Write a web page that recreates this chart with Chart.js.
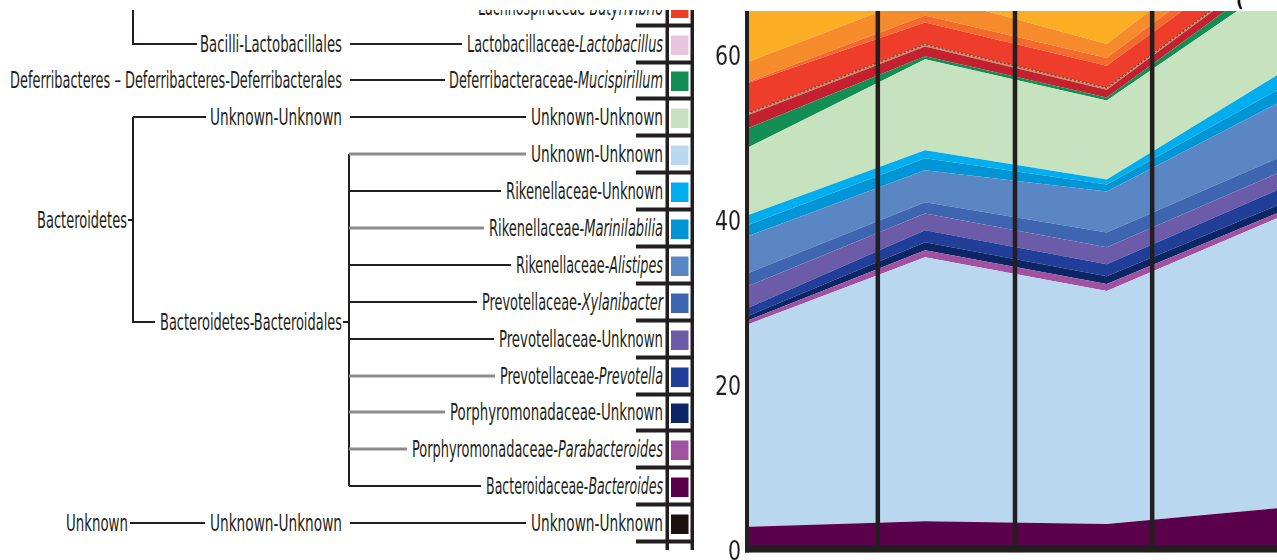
<!DOCTYPE html>
<html>
<head>
<meta charset="utf-8">
<script src="https://cdn.jsdelivr.net/npm/chart.js@4.4.1/dist/chart.umd.min.js"></script>
<style>
  html, body { margin: 0; padding: 0; background: #fff; width: 1277px; height: 560px; overflow: hidden; position: relative; }
  #tree { position: absolute; left: 0; top: 0; }
  #wrap { position: absolute; left: 680px; top: -30px; width: 597px; height: 620px; }
  #mask { position: absolute; left: 0; top: 0; width: 1277px; height: 10px; background: #fff; }
  #mask span { position: absolute; left: 1236px; top: -9px; font: bold 17px "DejaVu Sans", sans-serif; color: #111; }
</style>
</head>
<body>
<svg id="tree" width="700" height="560" xmlns="http://www.w3.org/2000/svg"></svg>
<div id="wrap"><canvas id="c" width="597" height="620"></canvas></div>
<div id="mask"><span>(</span></div>
<script>
// Sampling points along the x axis
const timePoints = [0, 1, 2, 3];

// Relative abundance (%) per taxon, bottom of the stack first
const unknownUnknown        = [0.2, 0.2, 0.2, 0.2];
const bacteroidesVals       = [2.9, 3.6, 3.25, 5.3];
const bacteroidalesUnknown  = [24.35, 32.0, 28.25, 35.6];
const parabacteroidesVals   = [0.45, 0.85, 0.85, 0.6];
const porphyromonadUnknown  = [0.55, 0.95, 0.95, 0.95];
const prevotellaVals        = [0.95, 1.45, 1.45, 1.85];
const prevotellaceaeUnknown = [2.65, 2.05, 2.05, 2.05];
const xylanibacterVals      = [1.6, 1.35, 1.8, 1.8];
const alistipesVals         = [4.5, 3.9, 4.95, 6.8];
const marinilabiliaVals     = [1.35, 1.45, 0.85, 1.65];
const rikenellaceaeUnknown  = [1.2, 0.95, 0.6, 1.9];
const bacteroidetesUnknown  = [8.1, 11.05, 9.6, 11.2];
const mucispirillumVals     = [2.4, 0.35, 0.35, 1.35];
const otherCrimson          = [1.6, 1.2, 0.95, 1.15];
const lactobacillusVals     = [0.25, 0.25, 0.25, 0.25];
const butyrivibrioVals      = [3.65, 2.65, 2.65, 2.35];
const otherVermilion        = [0.15, 0.85, 0.95, 1.5];
const otherOrange           = [2.4, 2.55, 1.7, 2.0];
const otherAmber            = [20, 20, 20, 20];

// Tick values on the y axis and positions of the period dividers (x units)
const yTicks = [0, 20, 40, 60];
const dividers = [0.74, 1.495, 2.25];

const COL = {
  unknown: '#1b110e', bacteroides: '#5b004b', bacteroidalesUnk: '#b9d8f0',
  parabacteroides: '#a052a0', porphyroUnk: '#0c2665', prevotella: '#213f99',
  prevotellaceaeUnk: '#6b5ba8', xylanibacter: '#3e66b0', alistipes: '#5b86c4',
  marinilabilia: '#0096d6', rikenellaceaeUnk: '#00aeef', bacteroidetesUnk: '#c6e2bf',
  mucispirillum: '#138f56', crimson: '#c5202f', lactobacillus: '#e7c5df',
  lactobacillusBand: '#d98a5e',
  butyrivibrio: '#ee3e2b', vermilion: '#f26b2d', orange: '#f58b2b', amber: '#fbad23'
};

const INK = '#231f20';
const FONT = '"Liberation Sans Narrow", "DejaVu Sans Condensed", "DejaVu Sans", sans-serif';

/* ---------- taxonomy tree on the left ---------- */
const svgNS = 'http://www.w3.org/2000/svg';
const svg = document.getElementById('tree');

function addText(parts, x0, x1, yc) {
  const t = document.createElementNS(svgNS, 'text');
  t.setAttribute('x', x0);
  t.setAttribute('y', yc + 8);
  t.setAttribute('textLength', x1 - x0);
  t.setAttribute('lengthAdjust', 'spacingAndGlyphs');
  t.setAttribute('font-family', FONT);
  t.setAttribute('font-size', '23');
  t.setAttribute('fill', INK);
  parts.forEach((p, i) => {
    const s = document.createElementNS(svgNS, 'tspan');
    if (i === 1) s.setAttribute('font-style', 'italic');
    s.textContent = p;
    t.appendChild(s);
  });
  svg.appendChild(t);
}
function addPath(d, color, w) {
  const p = document.createElementNS(svgNS, 'path');
  p.setAttribute('d', d);
  p.setAttribute('stroke', color);
  p.setAttribute('stroke-width', w);
  p.setAttribute('fill', 'none');
  svg.appendChild(p);
}
function addRect(x, y, w, h, color) {
  const r = document.createElementNS(svgNS, 'rect');
  r.setAttribute('x', x); r.setAttribute('y', y);
  r.setAttribute('width', w); r.setAttribute('height', h);
  r.setAttribute('fill', color);
  svg.appendChild(r);
}

const leafRows = [
  { y: 7,   parts: ['Lachnospiraceae-', 'Butyrivibrio'], x0: 478, color: COL.butyrivibrio },
  { y: 44,  parts: ['Lactobacillaceae-', 'Lactobacillus'], x0: 467, color: COL.lactobacillus },
  { y: 80,  parts: ['Deferribacteraceae-', 'Mucispirillum'], x0: 449, color: COL.mucispirillum },
  { y: 117, parts: ['Unknown-Unknown'], x0: 531, color: COL.bacteroidetesUnk },
  { y: 154, parts: ['Unknown-Unknown'], x0: 531, color: COL.bacteroidalesUnk, branch: 'gray' },
  { y: 191, parts: ['Rikenellaceae-Unknown'], x0: 506, color: COL.rikenellaceaeUnk, branch: 'black' },
  { y: 228, parts: ['Rikenellaceae-', 'Marinilabilia'], x0: 489, color: COL.marinilabilia, branch: 'gray' },
  { y: 265, parts: ['Rikenellaceae-', 'Alistipes'], x0: 516, color: COL.alistipes, branch: 'black' },
  { y: 302, parts: ['Prevotellaceae-', 'Xylanibacter'], x0: 482, color: COL.xylanibacter, branch: 'black' },
  { y: 339, parts: ['Prevotellaceae-Unknown'], x0: 499, color: COL.prevotellaceaeUnk, branch: 'black' },
  { y: 376, parts: ['Prevotellaceae-', 'Prevotella'], x0: 500, color: COL.prevotella, branch: 'gray' },
  { y: 412, parts: ['Porphyromonadaceae-Unknown'], x0: 450, color: COL.porphyroUnk, branch: 'gray' },
  { y: 449, parts: ['Porphyromonadaceae-', 'Parabacteroides'], x0: 412, color: COL.parabacteroides, branch: 'gray' },
  { y: 486, parts: ['Bacteroidaceae-', 'Bacteroides'], x0: 486, color: COL.bacteroides, branch: 'black' },
  { y: 523, parts: ['Unknown-Unknown'], x0: 531, color: COL.unknown }
];

const orderRows = [
  { y: 44,  text: 'Bacilli-Lactobacillales', x0: 200 },
  { y: 80,  text: 'Deferribacteres \u2013 Deferribacteres-Deferribacterales', x0: 10 },
  { y: 117, text: 'Unknown-Unknown', x0: 210 },
  { y: 322, text: 'Bacteroidetes-Bacteroidales', x0: 160 },
  { y: 523, text: 'Unknown-Unknown', x0: 210 }
];
const phylumRows = [
  { y: 220, text: 'Bacteroidetes', x0: 37, x1: 127 },
  { y: 523, text: 'Unknown', x0: 66, x1: 128 }
];

// colour ladder
addRect(665.5, 0, 3.5, 550, INK);
addRect(690.5, 0, 3.5, 550, INK);
leafRows.forEach(r => {
  addRect(671, r.y - 8.5, 17.5, 19.5, r.color);
  addRect(636, r.y + 16.5, 58, 4, INK);
  addText(r.parts, r.x0, 663, r.y);
});
orderRows.forEach(r => addText([r.text], r.x0, 342, r.y));
phylumRows.forEach(r => addText([r.text], r.x0, r.x1, r.y));

// connectors
addPath('M133 0 V44 H197', INK, 2);
addPath('M350 44 H462', INK, 2);
addPath('M350 80 H445', INK, 2);
addPath('M133 117 H206 M133 117 V322 H155', INK, 2);
addPath('M350 117 H526', INK, 2);
addPath('M128 220 H133', INK, 2);
addPath('M343 322 H349 M349 154 V486', INK, 2);
addPath('M130 523 H205 M350 523 H526', INK, 2);
leafRows.filter(r => r.branch).forEach(r => {
  if (r.branch === 'gray') addPath(`M349 ${r.y} H${r.x0 - 5}`, '#8e8b8b', 3);
  else addPath(`M349 ${r.y} H${r.x0 - 5}`, INK, 2);
});

/* ---------- stacked area chart ---------- */
const series = [
  { label: 'Unknown-Unknown', data: unknownUnknown, color: COL.unknown },
  { label: 'Bacteroidaceae-Bacteroides', data: bacteroidesVals, color: COL.bacteroides },
  { label: 'Bacteroidales Unknown-Unknown', data: bacteroidalesUnknown, color: COL.bacteroidalesUnk },
  { label: 'Porphyromonadaceae-Parabacteroides', data: parabacteroidesVals, color: COL.parabacteroides },
  { label: 'Porphyromonadaceae-Unknown', data: porphyromonadUnknown, color: COL.porphyroUnk },
  { label: 'Prevotellaceae-Prevotella', data: prevotellaVals, color: COL.prevotella },
  { label: 'Prevotellaceae-Unknown', data: prevotellaceaeUnknown, color: COL.prevotellaceaeUnk },
  { label: 'Prevotellaceae-Xylanibacter', data: xylanibacterVals, color: COL.xylanibacter },
  { label: 'Rikenellaceae-Alistipes', data: alistipesVals, color: COL.alistipes },
  { label: 'Rikenellaceae-Marinilabilia', data: marinilabiliaVals, color: COL.marinilabilia },
  { label: 'Rikenellaceae-Unknown', data: rikenellaceaeUnknown, color: COL.rikenellaceaeUnk },
  { label: 'Bacteroidetes Unknown-Unknown', data: bacteroidetesUnknown, color: COL.bacteroidetesUnk },
  { label: 'Deferribacteraceae-Mucispirillum', data: mucispirillumVals, color: COL.mucispirillum },
  { label: 'Other A', data: otherCrimson, color: COL.crimson },
  { label: 'Lactobacillaceae-Lactobacillus', data: lactobacillusVals, color: COL.lactobacillusBand, dashed: true },
  { label: 'Lachnospiraceae-Butyrivibrio', data: butyrivibrioVals, color: COL.butyrivibrio },
  { label: 'Other B', data: otherVermilion, color: COL.vermilion },
  { label: 'Other C', data: otherOrange, color: COL.orange },
  { label: 'Other D', data: otherAmber, color: COL.amber }
];

const datasets = series.map((s, i) => ({
  label: s.label,
  data: s.data.map((v, k) => ({ x: timePoints[k], y: v })),
  backgroundColor: s.color,
  borderColor: s.dashed ? '#5e5252' : s.color,
  borderWidth: s.dashed ? 1.5 : 0,
  borderDash: s.dashed ? [2, 2] : [],
  pointRadius: 0,
  tension: 0,
  fill: i === 0 ? 'origin' : '-1'
}));

// Axis lines, period dividers and condensed tick labels
const framePlugin = {
  id: 'frame',
  afterDatasetsDraw(chart) {
    const { ctx, chartArea: a, scales: { x, y } } = chart;
    const base = y.getPixelForValue(0);
    ctx.save();
    ctx.fillStyle = INK;
    dividers.forEach(v => {
      const px = x.getPixelForValue(v);
      ctx.fillRect(px - 2.25, a.top, 4.5, base - a.top - 2);
    });
    ctx.fillRect(a.left - 4, a.top, 4, base - a.top);
    ctx.fillRect(a.left - 4, base - 7.5, a.right - a.left + 4, 7.5);

    ctx.font = '27px "DejaVu Sans", sans-serif';
    ctx.textAlign = 'right';
    ctx.textBaseline = 'middle';
    y.ticks.forEach(t => {
      const py = y.getPixelForValue(t.value);
      ctx.save();
      ctx.translate(a.left - 8, py);
      ctx.scale(0.76, 1);
      ctx.fillText(String(t.value), 0, 0);
      ctx.restore();
    });
    ctx.restore();
  }
};

new Chart(document.getElementById('c'), {
  type: 'line',
  data: { datasets },
  options: {
    responsive: false,
    animation: false,
    devicePixelRatio: 1,
    events: [],
    layout: { padding: { top: 41, bottom: 37.5, left: 0, right: 0 } },
    plugins: { legend: { display: false }, tooltip: { enabled: false } },
    scales: {
      x: { type: 'linear', min: 0.031, max: 2.937, display: false },
      y: {
        stacked: true,
        min: 0,
        max: 65.64,
        afterFit(scale) { scale.width = 69; },
        afterBuildTicks(scale) { scale.ticks = yTicks.map(v => ({ value: v })); },
        grid: { display: false, drawTicks: false },
        border: { display: false },
        ticks: { display: false }
      }
    }
  },
  plugins: [framePlugin]
});
</script>
</body>
</html>
